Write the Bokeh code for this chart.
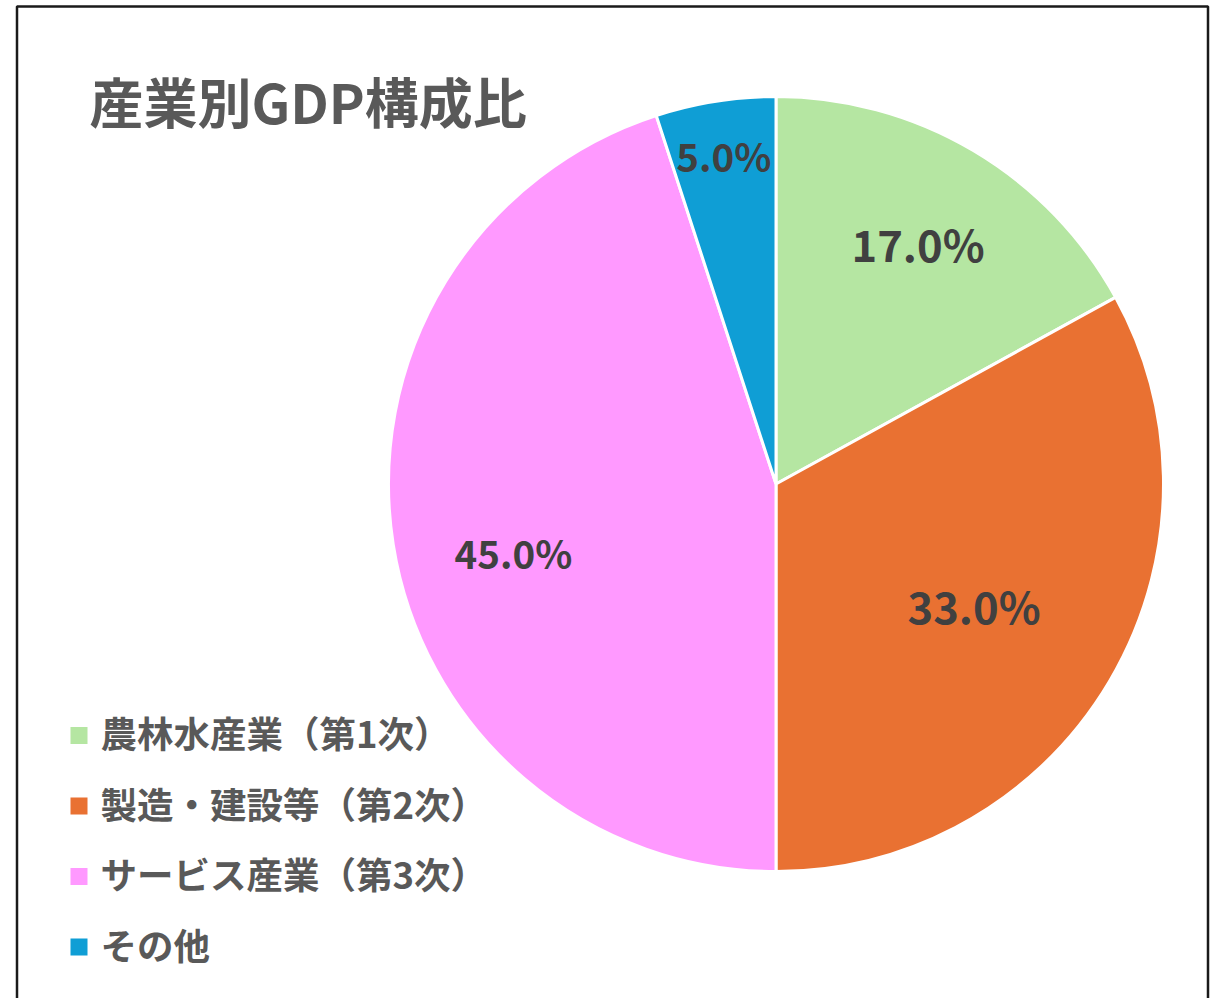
import math
from bokeh.plotting import figure
from bokeh.models import Range1d, BoxAnnotation, ColumnDataSource
from bokeh.core.properties import value
from bokeh.embed import file_html
from bokeh.resources import INLINE

# ---- data ----
title = "産業別GDP構成比"
categories = ["農林水産業（第1次）", "製造・建設等（第2次）", "サービス産業（第3次）", "その他"]
shares = [17.0, 33.0, 45.0, 5.0]
colors = ["#B5E6A2", "#E97132", "#FF99FF", "#0F9ED5"]

# ---- style / layout ----
W, H = 1216, 998
FONT = "Noto Sans CJK JP"
cx, cy_px, R = 775.5, 483.5, 387.5
label_rfrac = [0.72, 0.60, 0.70, 0.86]
label_dang = [0.0, -1.0, 5.5, 0.0]
label_size = ["43.5px", "43.5px", "38.5px", "38.5px"]

def Y(py):
    return H - py

p = figure(width=W, height=H, x_range=Range1d(0, W), y_range=Range1d(0, H),
           output_backend="svg", toolbar_location=None, min_border=0)
p.axis.visible = False
p.grid.visible = False
p.outline_line_color = None
p.background_fill_color = "white"
p.border_fill_color = "white"

# border frame
p.add_layout(BoxAnnotation(left=16.5, right=1207.5, top=Y(6), bottom=-20,
                           fill_color=None, fill_alpha=0,
                           line_color="#1a1a1a", line_alpha=1.0, line_width=2.5))

# pie
total = sum(shares)
starts, ends, mids = [], [], []
cum = 0.0
for s in shares:
    a0 = math.pi / 2 - cum / total * 2 * math.pi
    cum += s
    a1 = math.pi / 2 - cum / total * 2 * math.pi
    starts.append(a0)
    ends.append(a1)
    mids.append((a0 + a1) / 2)

src = ColumnDataSource(dict(start=starts, end=ends, color=colors))
p.wedge(x=cx, y=Y(cy_px), radius=R, start_angle="start", end_angle="end",
        direction="clock", fill_color="color", line_color="white", line_width=3,
        source=src)

# data labels
for i, s in enumerate(shares):
    a = mids[i] + math.radians(label_dang[i])
    r = R * label_rfrac[i]
    p.text(x=[cx + r * math.cos(a)], y=[Y(cy_px) + r * math.sin(a)],
           text=[f"{s:.1f}%"], text_font=value(FONT), text_font_style="bold",
           text_font_size=label_size[i], text_color="#404040",
           text_align="center", text_baseline="middle")

# title
p.text(x=[89], y=[Y(100)], text=[title], text_font=value(FONT),
       text_font_style="bold", text_font_size="54px", text_color="#595959",
       text_align="left", text_baseline="middle")

# legend
row_y = [Y(735 + i * 70.5) for i in range(len(categories))]
p.rect(x=[78.5] * len(categories), y=row_y, width=17, height=17,
       fill_color=colors, line_color=None)
p.text(x=[100] * len(categories), y=[y + 3 for y in row_y], text=categories,
       text_font=value(FONT), text_font_style="bold", text_font_size="36.5px",
       text_color="#595959", text_align="left", text_baseline="middle")

open("out.html", "w").write(file_html(p, INLINE))
